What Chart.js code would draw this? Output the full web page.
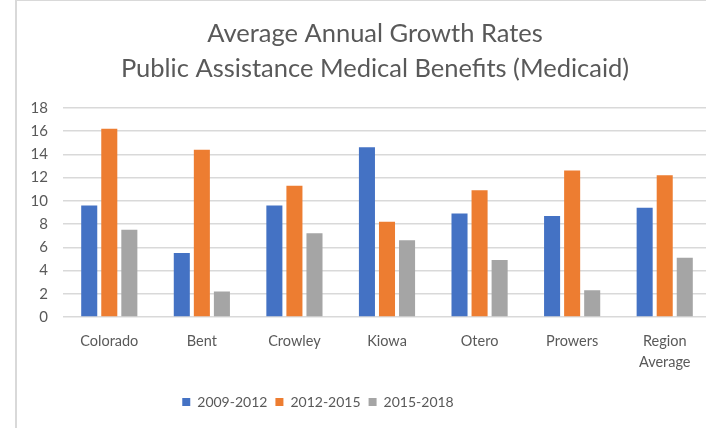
<!DOCTYPE html>
<html lang="en">
<head>
    <meta charset="UTF-8">
    <title>Average Annual Growth Rates</title>
    <script src="https://cdn.jsdelivr.net/npm/chart.js"></script>
    <style>
        html, body { margin: 0; padding: 0; background: #fff; overflow: hidden; }
        #frame {
            position: absolute;
            left: 15px;
            top: 0;
            width: 691px;
            height: 428px;
            border-left: 2px solid #d9d9d9;
            border-top: 1px solid #d9d9d9;
            box-sizing: border-box;
            overflow: hidden;
        }
    </style>
</head>
<body>
    <div id="frame">
        <canvas id="growthChart" width="717" height="427"></canvas>
    </div>
    <script>
        // Counties and the three growth periods
        const counties = ['Colorado', 'Bent', 'Crowley', 'Kiowa', 'Otero', 'Prowers', ['Region', 'Average']];
        const periods = ['2009-2012', '2012-2015', '2015-2018'];
        const rates2009 = [9.6, 5.5, 9.6, 14.6, 8.9, 8.7, 9.4];
        const rates2012 = [16.2, 14.4, 11.3, 8.2, 10.9, 12.6, 12.2];
        const rates2015 = [7.5, 2.2, 7.2, 6.6, 4.9, 2.3, 5.1];
        const seriesColors = ['#4472C4', '#ED7D31', '#A5A5A5'];

        const fontFamily = 'Lato, "Open Sans", sans-serif';
        const textColor = '#595959';

        // title sits centred on the whole frame, legend a little left of centre
        const boxShift = {
            id: 'boxShift',
            afterLayout(chart) {
                chart.titleBlock.left += 11;
                chart.titleBlock.right += 11;
                chart.legend.left -= 46;
                chart.legend.right -= 46;
            }
        };

        const ctx = document.getElementById('growthChart').getContext('2d');
        const chart = new Chart(ctx, {
            type: 'bar',
            data: {
                labels: counties,
                datasets: [rates2009, rates2012, rates2015].map((values, i) => ({
                    label: periods[i],
                    data: values,
                    backgroundColor: seriesColors[i],
                    categoryPercentage: 0.65,
                    barPercentage: 0.8
                }))
            },
            options: {
                responsive: false,
                animation: false,
                layout: { padding: { left: 0, right: 23, top: 0, bottom: 9 } },
                plugins: {
                    title: {
                        display: true,
                        text: ['Average Annual Growth Rates', 'Public Assistance Medical Benefits (Medicaid)'],
                        color: textColor,
                        font: { family: fontFamily, size: 25.5, weight: 'normal', lineHeight: 1.37 },
                        padding: { top: 15, bottom: 22 }
                    },
                    legend: {
                        position: 'bottom',
                        labels: {
                            color: textColor,
                            font: { family: fontFamily, size: 14 },
                            boxWidth: 8,
                            boxHeight: 8,
                            padding: 8
                        }
                    },
                    tooltip: { enabled: false }
                },
                scales: {
                    x: {
                        grid: { display: false },
                        border: { display: false },
                        ticks: {
                            color: textColor,
                            font: { family: fontFamily, size: 14.5, lineHeight: 1.5 },
                            maxRotation: 0,
                            autoSkip: false,
                            padding: 5
                        },
                        afterFit: (scale) => { scale.height = 70; }
                    },
                    y: {
                        min: 0,
                        max: 18,
                        grid: { color: '#d9d9d9', lineWidth: 1.5, drawTicks: false },
                        border: { display: false },
                        ticks: {
                            stepSize: 2,
                            color: textColor,
                            font: { family: fontFamily, size: 15 },
                            padding: 15
                        },
                        afterFit: (scale) => { scale.width = 46; }
                    }
                }
            },
            plugins: [boxShift]
        });
    </script>
</body>
</html>
